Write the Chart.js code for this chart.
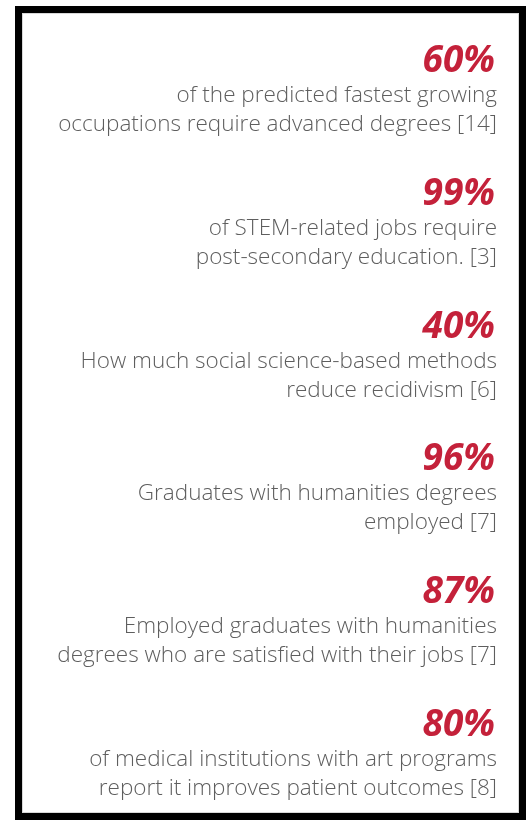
<!DOCTYPE html>
<html>
<head>
<meta charset="utf-8">
<script src="https://cdn.jsdelivr.net/npm/chart.js@4"></script>
<style>
  html, body { margin: 0; padding: 0; background: #fff; }
  #wrap { position: absolute; left: 0; top: 0; width: 527px; height: 827px; }
  #frame {
    position: absolute; left: 15px; top: 6px; width: 511px; height: 814px;
    border: 7px solid #000; box-sizing: border-box;
    box-shadow: inset 0 0 0 1px #d8d8d8;
  }
  canvas { position: absolute; left: 0; top: 0; }
</style>
</head>
<body>
<div id="wrap">
  <div id="frame"></div>
  <canvas id="chart1" width="527" height="827"></canvas>
</div>
<script>
const categories = ['Fastest growing occupations', 'STEM jobs', 'Recidivism', 'Humanities employed', 'Humanities satisfied', 'Medical art programs'];
const percentages = [60, 99, 40, 96, 87, 80];
const descriptions = [
  ['of the predicted fastest growing', 'occupations require advanced degrees [14]'],
  ['of STEM-related jobs require', 'post-secondary education. [3]'],
  ['How much social science-based methods', 'reduce recidivism [6]'],
  ['Graduates with humanities degrees', 'employed [7]'],
  ['Employed graduates with humanities', 'degrees who are satisfied with their jobs [7]'],
  ['of medical institutions with art programs', 'report it improves patient outcomes [8]']
];

renderChart();

function renderChart() {
  const ctx1 = document.getElementById('chart1');

  // writes the stat text at each bar's y position
  const statText = {
    id: 'statText',
    afterDatasetsDraw(chart) {
      const ctx = chart.ctx;
      const meta = chart.getDatasetMeta(0);
      const right = chart.chartArea.right;
      ctx.save();
      ctx.textAlign = 'right';
      ctx.textBaseline = 'alphabetic';
      meta.data.forEach((bar, i) => {
        const y = bar.y;
        ctx.fillStyle = '#c4213a';
        ctx.font = 'italic bold 37px "Open Sans"';
        ctx.fillText(percentages[i] + '%', right - 2, y - 30);
        ctx.fillStyle = '#5e5e5e';
        ctx.font = '300 22.5px "Open Sans"';
        descriptions[i].forEach((line, j) => {
          ctx.fillText(line, right, y + j * 29);
        });
      });
      ctx.restore();
    }
  };

  new Chart(ctx1, {
    type: 'bar',
    data: {
      labels: categories,
      datasets: [{
        label: 'Share',
        data: percentages,
        backgroundColor: 'rgba(0,0,0,0)',
        borderWidth: 0
      }]
    },
    options: {
      indexAxis: 'y',
      responsive: false,
      animation: false,
      layout: { padding: { top: 102, bottom: 61, left: 0, right: 30 } },
      scales: {
        x: { display: false, min: 0, max: 100 },
        y: { display: false, offset: false }
      },
      plugins: {
        legend: { display: false },
        tooltip: { enabled: false }
      }
    },
    plugins: [statText]
  });
}
</script>
</body>
</html>
